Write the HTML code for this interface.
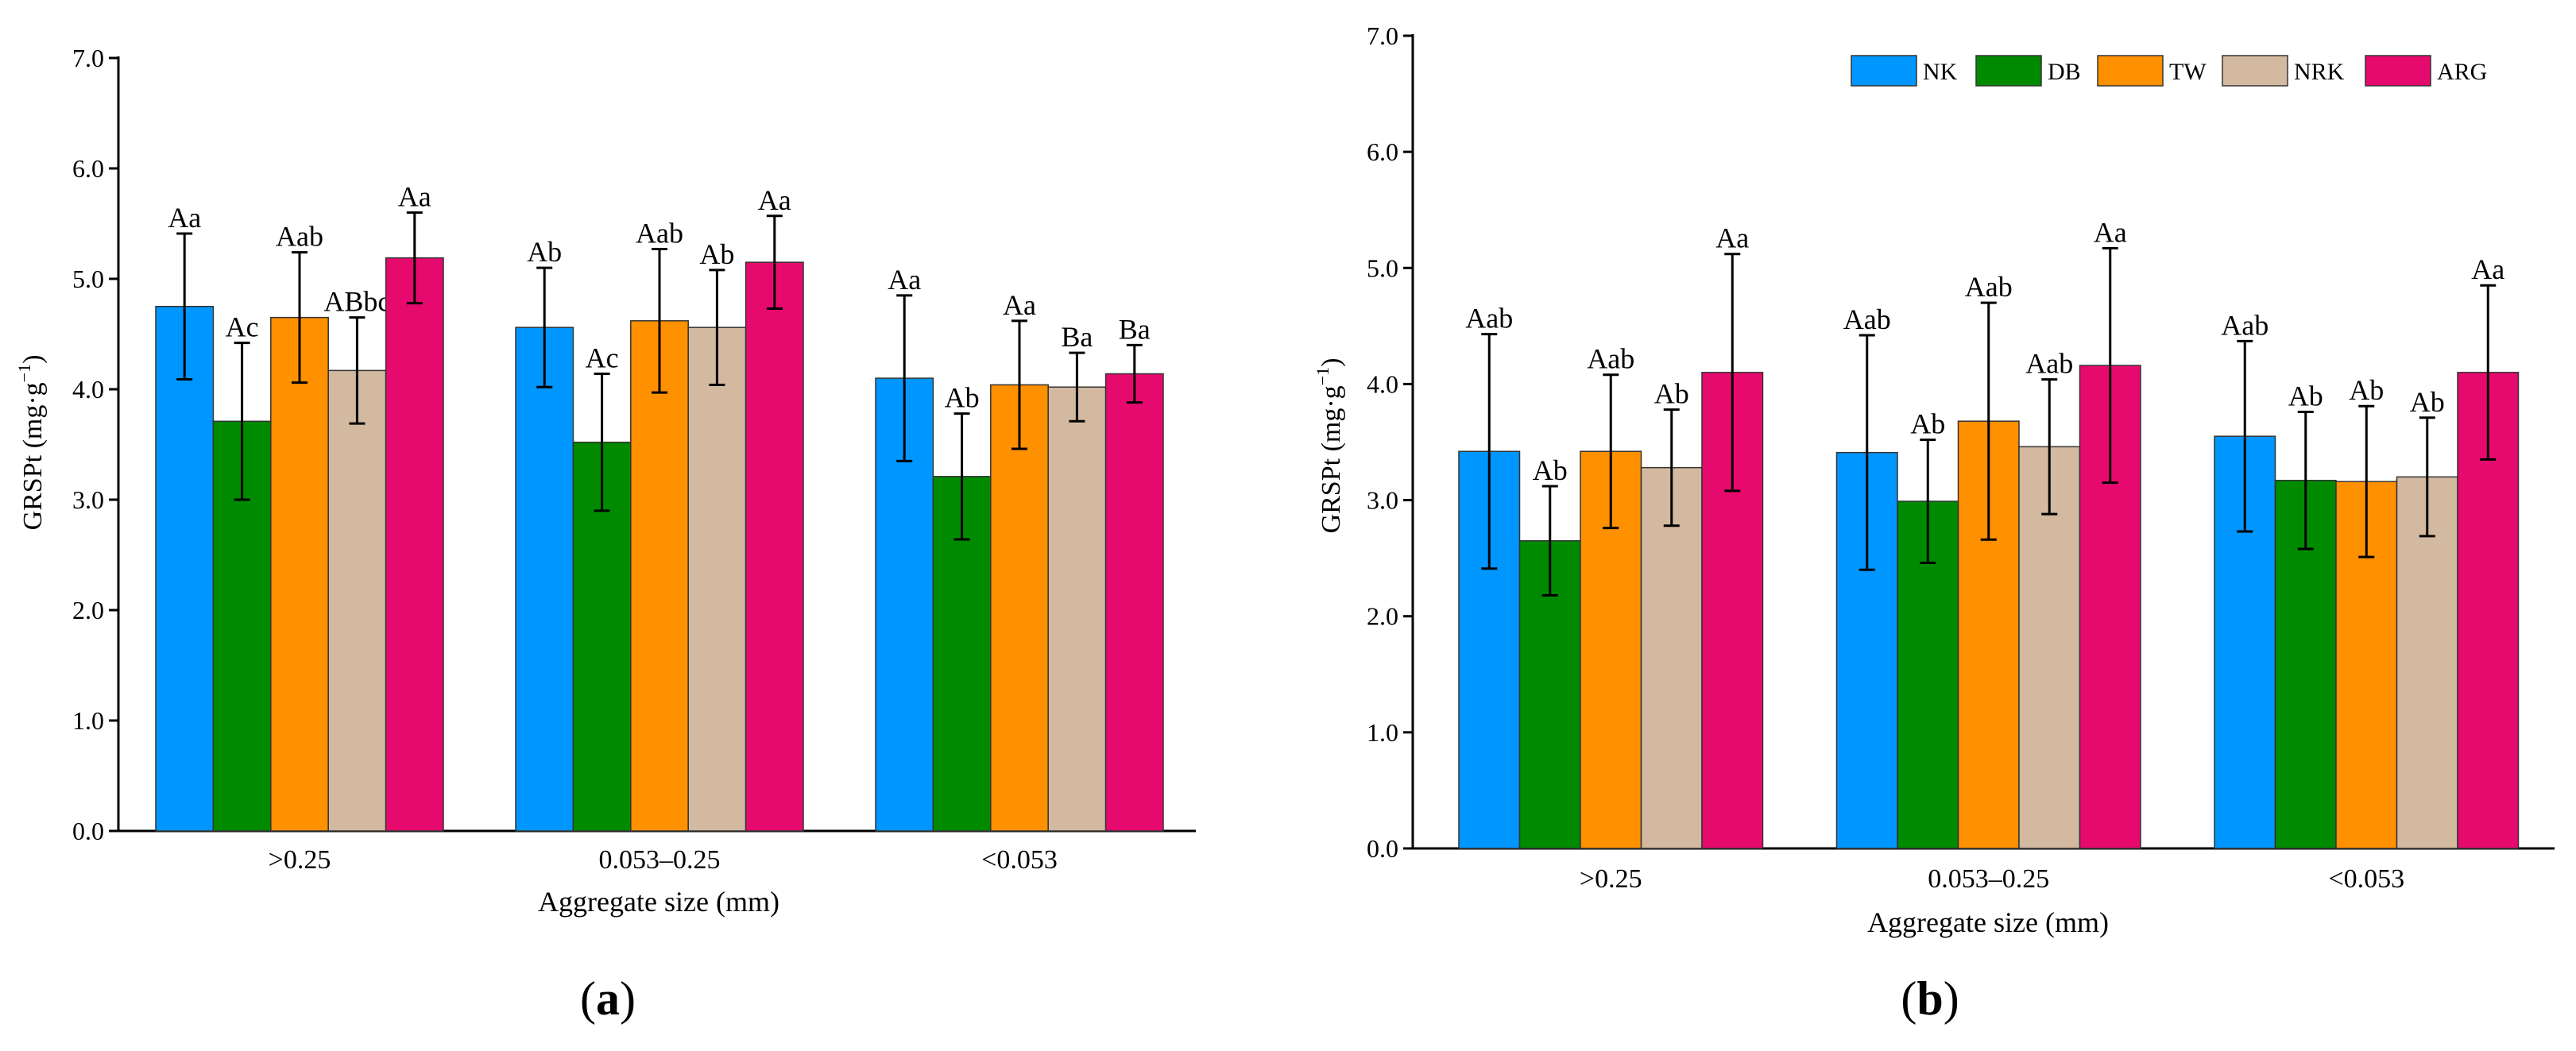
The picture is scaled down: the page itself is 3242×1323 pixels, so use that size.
<!DOCTYPE html>
<html><head><meta charset="utf-8"><style>
html,body{margin:0;padding:0;background:#fff}
svg{display:block}
svg text{font-family:"Liberation Serif","DejaVu Serif",serif}
</style></head><body>
<svg id="chart" width="3242" height="1323" viewBox="0 0 3242 1323" font-family="Liberation Serif, serif" xmlns="http://www.w3.org/2000/svg"></svg>
<script>
const categories = [">0.25", "0.053\u20130.25", "<0.053"];
const seriesNames = ["NK", "DB", "TW", "NRK", "ARG"];
const colors = ["#0096ff", "#008a00", "#ff9000", "#d2b9a0", "#e60a6e"];
const yTicks = [0, 1, 2, 3, 4, 5, 6, 7];
// panel a
const aValues = [[4.75,3.71,4.65,4.17,5.19],[4.56,3.52,4.62,4.56,5.15],[4.10,3.21,4.04,4.02,4.14]];
const aErrors = [[0.66,0.71,0.59,0.48,0.41],[0.54,0.62,0.65,0.52,0.42],[0.75,0.57,0.58,0.31,0.26]];
const aLabels = [["Aa","Ac","Aab","ABbc","Aa"],["Ab","Ac","Aab","Ab","Aa"],["Aa","Ab","Aa","Ba","Ba"]];
// panel b
const bValues = [[3.42,2.65,3.42,3.28,4.10],[3.41,2.99,3.68,3.46,4.16],[3.55,3.17,3.16,3.20,4.10]];
const bErrors = [[1.01,0.47,0.66,0.50,1.02],[1.01,0.53,1.02,0.58,1.01],[0.82,0.59,0.65,0.51,0.75]];
const bLabels = [["Aab","Ab","Aab","Ab","Aa"],["Aab","Ab","Aab","Aab","Aa"],["Aab","Ab","Ab","Ab","Aa"]];

const NS = "http://www.w3.org/2000/svg";
const svg = document.getElementById("chart");
function mk(tag, attrs, parent, txt){
  const e = document.createElementNS(NS, tag);
  for (const k in attrs) e.setAttribute(k, attrs[k]);
  if (tag === "text") e.setAttribute("font-family", "Liberation Serif, serif");
  if (txt !== undefined) e.textContent = txt;
  (parent || svg).appendChild(e);
  return e;
}
function panel(p){
  const g = mk("g", {});
  
  
  const y = v => p.y0 - (v / 7) * (p.y0 - p.y7);
  const gx = i => p.g0 + i * p.gStep;
  const ax = mk("line", {x1:p.ax, y1:p.y7-2, x2:p.ax, y2:p.y0, stroke:"#000", "stroke-width":3}, g);
  
  
  const bx = mk("line", {x1:p.ax, y1:p.y0, x2:p.axEnd, y2:p.y0, stroke:"#000", "stroke-width":3}, g);
  
  
  yTicks.forEach(t => {
    const ln = mk("line", {x1:p.ax-12, y1:y(t), x2:p.ax, y2:y(t), stroke:"#000", "stroke-width":3}, g);
    
    
    const tx = mk("text", {x:p.ax-18, y:y(t)+11, "text-anchor":"end", "font-size":32}, g, t.toFixed(1));
    
    
  });
  categories.forEach((c, i) => {
    const tx = mk("text", {x:gx(i) + 2.5*p.bw, y:p.catY, "text-anchor":"middle", "font-size":34}, g, c);
    
    
    seriesNames.forEach((s, j) => {
      const v = p.values[i][j], e = p.errors[i][j];
      const x = gx(i) + j * p.bw;
      const r = mk("rect", {x:x, y:y(v), width:p.bw, height:p.y0 - y(v), fill:colors[j], stroke:"#333", "stroke-width":1.5}, g);
      
      
      const cx = x + p.bw/2;
      const el = mk("path", {d:`M${cx},${y(v-e)}V${y(v+e)}M${cx-10},${y(v-e)}H${cx+10}M${cx-10},${y(v+e)}H${cx+10}`, stroke:"#000", "stroke-width":3, fill:"none"}, g);
      
      
      const lb = mk("text", {x:cx, y:y(v+e)-8, "text-anchor":"middle", "font-size":36}, g, p.labels[i][j]);
      
      
    });
  });
  const xt = mk("text", {x:p.titleX, y:p.titleY, "text-anchor":"middle", "font-size":36}, g, "Aggregate size (mm)");
  
  
  const yt = mk("text", {x:0, y:0, "text-anchor":"middle", "font-size":34, transform:`translate(${p.ytX},${p.ytY}) rotate(-90)`}, g);
  
  
  mk("tspan", {}, yt, "GRSPt (mg\u00b7g");
  mk("tspan", {dy:-14, "font-size":22}, yt, "\u22121");
  mk("tspan", {dy:14}, yt, ")");
  const pl = mk("text", {x:p.plX, y:p.plY, "text-anchor":"middle", "font-size":60}, g);
  
  
  mk("tspan", {}, pl, "(");
  mk("tspan", {"font-weight":"bold"}, pl, p.id);
  mk("tspan", {}, pl, ")");
}
panel({id:"a", ax:149, axEnd:1505, y0:1046, y7:73, g0:196, gStep:453, bw:72.4, values:aValues, errors:aErrors, labels:aLabels, catY:1093, titleX:829, titleY:1147, ytX:52, ytY:557, plX:765, plY:1277});
panel({id:"b", ax:1778, axEnd:3215, y0:1068, y7:45, g0:1836, gStep:475.5, bw:76.5, values:bValues, errors:bErrors, labels:bLabels, catY:1117, titleX:2502, titleY:1173, ytX:1686, ytY:561, plX:2429, plY:1277});
const leg = mk("g", {});


const legX = [2330, 2487, 2640, 2797, 2977];
seriesNames.forEach((s, j) => {
  const r = mk("rect", {x:legX[j], y:70, width:82, height:38, fill:colors[j], stroke:"#333", "stroke-width":1.5}, leg);
  
  
  const t = mk("text", {x:legX[j]+90, y:100, "font-size":30}, leg, s);
  
  
});
</script>
</body></html>
